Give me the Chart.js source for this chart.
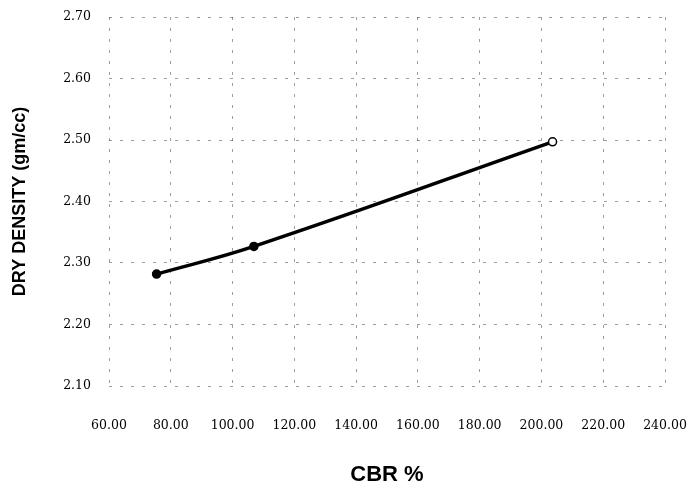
<!DOCTYPE html>
<html>
<head>
<meta charset="utf-8">
<script src="https://cdn.jsdelivr.net/npm/chart.js@4"></script>
<style>
  html, body { margin: 0; padding: 0; background: #fff; }
  #wrap { width: 690px; height: 488px; }
</style>
</head>
<body>
<div id="wrap"><canvas id="c" width="690" height="488"></canvas></div>
<script>
const cbrValues = [75.4, 106.9, 203.6];
const dryDensity = [2.282, 2.327, 2.497];
const xTitle = 'CBR %';
const yTitle = 'DRY DENSITY (gm/cc)';
const xRange = [60, 240, 20];
const yRange = [2.10, 2.70, 0.10];

const points = cbrValues.map((x, i) => ({ x: x, y: dryDensity[i] }));
const gridStyle = {
  color: 'rgba(0,0,0,0.38)',
  lineWidth: 1,
  drawTicks: false
};
const tickFont = { family: "'DejaVu Serif', 'Noto Serif', serif", size: 12.5 };

new Chart(document.getElementById('c'), {
  type: 'line',
  data: {
    datasets: [{
      data: points,
      borderColor: '#000',
      borderWidth: 3.5,
      tension: 0.4,
      pointRadius: 4,
      pointBorderWidth: 1.5,
      pointBorderColor: '#000',
      pointBackgroundColor: ['#000', '#000', '#fff']
    }]
  },
  options: {
    responsive: false,
    animation: false,
    devicePixelRatio: 1,
    layout: { padding: { left: 5, right: 25, top: 17, bottom: 0 } },
    plugins: { legend: { display: false }, tooltip: { enabled: false } },
    scales: {
      x: {
        type: 'linear',
        min: xRange[0], max: xRange[1],
        border: { display: false, dash: [3, 8] },
        grid: gridStyle,
        ticks: {
          stepSize: xRange[2],
          padding: 32,
          color: '#000',
          font: tickFont,
          callback: v => Number(v).toFixed(2)
        },
        title: {
          display: true, text: xTitle, color: '#000',
          font: { family: 'Liberation Sans', size: 22, weight: 'bold' },
          padding: { top: 0, bottom: 0 }
        },
        afterFit: s => { s.height = 102; s.paddingLeft = 0; s.paddingRight = 0; }
      },
      y: {
        type: 'linear',
        min: yRange[0], max: yRange[1],
        border: { display: false, dash: [3, 8] },
        grid: gridStyle,
        ticks: {
          stepSize: yRange[2],
          padding: 18,
          color: '#000',
          font: tickFont,
          callback: v => Number(v).toFixed(2)
        },
        title: {
          display: true, text: yTitle, color: '#000',
          font: { family: 'Liberation Sans', size: 18, weight: 'bold' },
          padding: { top: 4, bottom: 0 }
        },
        afterFit: s => { s.width = 104; s.paddingTop = 0; s.paddingBottom = 0; }
      }
    }
  }
});
</script>
</body>
</html>
